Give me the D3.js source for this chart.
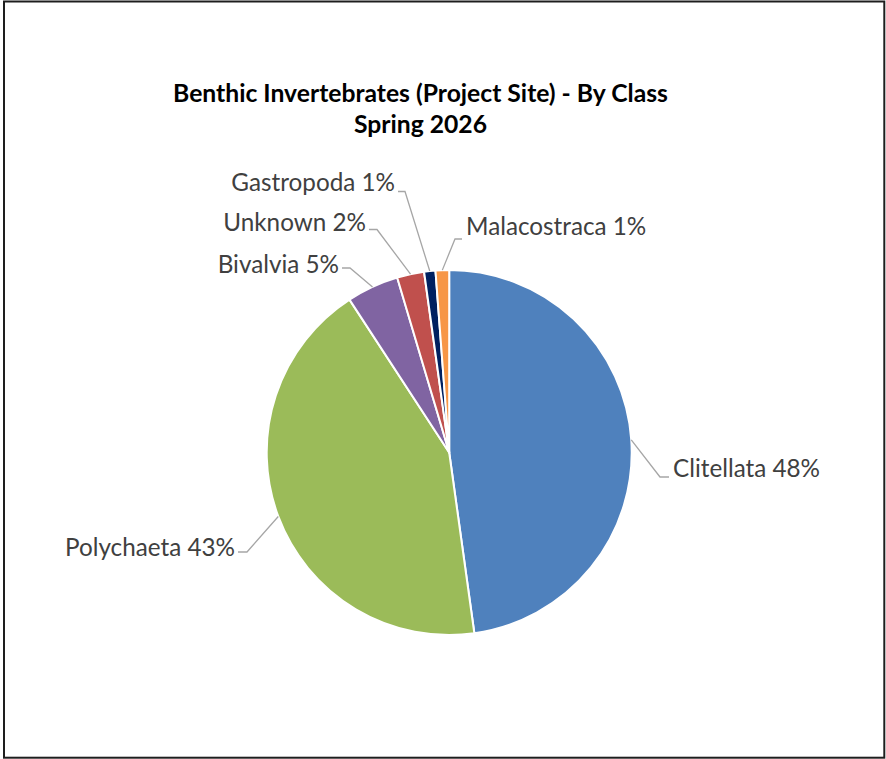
<!DOCTYPE html>
<html>
<head>
<meta charset="utf-8">
<script src="https://cdn.jsdelivr.net/npm/d3@7"></script>
<style>
  html, body { margin: 0; padding: 0; background: #fff; }
  svg { display: block; }
</style>
</head>
<body>
<svg id="chart" width="886" height="759"></svg>
<script>
// ---- data ----
const categories = ["Clitellata", "Polychaeta", "Bivalvia", "Unknown", "Gastropoda", "Malacostraca"];
const values = [47.8, 43.0, 4.6, 2.4, 1.0, 1.2];
const percentLabels = ["48%", "43%", "5%", "2%", "1%", "1%"];
const colors = ["#4f81bd", "#9bbb59", "#8064a2", "#c0504d", "#002060", "#f79646"];
const titleLines = ["Benthic Invertebrates (Project Site) - By Class", "Spring 2026"];

// ---- label layout (elbow point, text side) ----
const labelLayout = [
  { elbow: [660, 477], end: [669, 477], side: "right", base: 477 },
  { elbow: [247, 552], end: [238, 552], side: "left", base: 556 },
  { elbow: [350, 268], end: [342, 268], side: "left", base: 273 },
  { elbow: [377, 229.5], end: [369, 229.5], side: "left", base: 231 },
  { elbow: [405, 191.5], end: [398, 191.5], side: "left", base: 191 },
  { elbow: [455, 239], end: [462, 239], side: "right", base: 235 }
];

const svg = d3.select("#chart");
const W = 886, H = 759;
const cx = 449.2, cy = 452.5, R = 182.5;

// frame
svg.append("rect")
  .attr("x", 4).attr("y", 1.5).attr("width", 880.3).attr("height", 756.2)
  .attr("fill", "#fff").attr("stroke", "#1e1e1e").attr("stroke-width", 2);

const FONT = "Lato, 'Open Sans', sans-serif";

// helper: fit font size to a target width
function fitSize(text, targetWidth, weight) {
  const t = svg.append("text").attr("font-family", FONT).attr("font-size", 100)
    .attr("font-weight", weight).text(text);
  const w = t.node().getComputedTextLength();
  t.remove();
  return 100 * targetWidth / w;
}

// title
const titleSize = fitSize(titleLines[0], 495, "bold");
const title = svg.append("g");
title.append("text")
  .attr("x", 420.5).attr("y", 101.5)
  .attr("text-anchor", "middle")
  .attr("font-family", FONT).attr("font-weight", "bold")
  .attr("font-size", titleSize).attr("fill", "#000")
  .text(titleLines[0]);
title.append("text")
  .attr("x", 420.5).attr("y", 133)
  .attr("text-anchor", "middle")
  .attr("font-family", FONT).attr("font-weight", "bold")
  .attr("font-size", titleSize).attr("fill", "#000")
  .text(titleLines[1]);

// pie
const pie = d3.pie().sort(null).value(d => d.value);
const data = categories.map((c, i) => ({ name: c, value: values[i], label: c + " " + percentLabels[i], color: colors[i] }));
const arcs = pie(data);
const arc = d3.arc().innerRadius(0).outerRadius(R);

const g = svg.append("g").attr("transform", `translate(${cx},${cy})`);
g.selectAll("path.slice")
  .data(arcs)
  .join("path")
  .attr("class", "slice")
  .attr("d", arc)
  .attr("fill", d => d.data.color)
  .attr("stroke", "#fff")
  .attr("stroke-width", 2)
  .attr("stroke-linejoin", "round");

// label font size: fit to the measured widths
const targetWidths = [147, 169, 119, 144, 166, 181];
let sizes = data.map((d, i) => fitSize(d.label, targetWidths[i], "normal"));
const labelSize = d3.mean(sizes);

// leaders + labels
const outerArc = d3.arc().innerRadius(R).outerRadius(R);
arcs.forEach((a, i) => {
  const L = labelLayout[i];
  const c = outerArc.centroid(a);
  const start = [cx + c[0], cy + c[1]];
  svg.append("polyline")
    .attr("points", [start, L.elbow, L.end].map(p => p.join(",")).join(" "))
    .attr("fill", "none")
    .attr("stroke", "#a6a6a6")
    .attr("stroke-width", 1.3);
  svg.append("text")
    .attr("x", L.side === "right" ? L.end[0] + 4 : L.end[0] - 3)
    .attr("y", L.base)
    .attr("text-anchor", L.side === "right" ? "start" : "end")
    .attr("font-family", FONT)
    .attr("font-size", labelSize)
    .attr("fill", "#404040")
    .text(a.data.label);
});
</script>
</body>
</html>
